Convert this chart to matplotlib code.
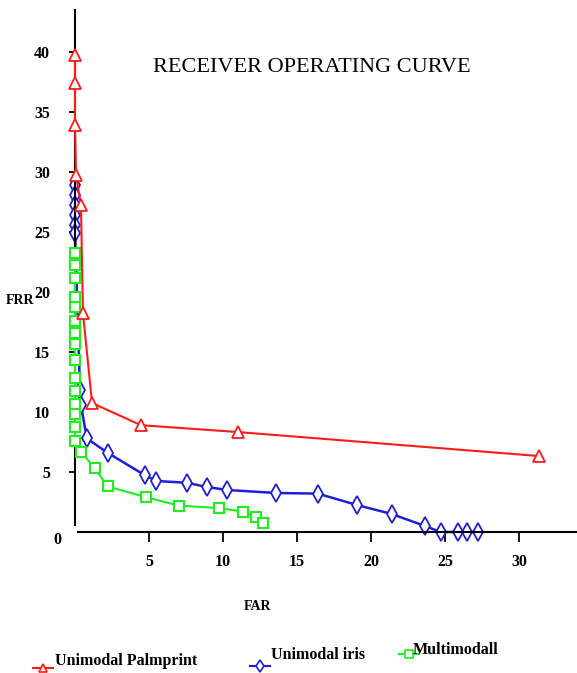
import matplotlib
matplotlib.use("Agg")
import matplotlib.pyplot as plt
from matplotlib.lines import Line2D

# FAR / FRR values
palm_far = [0, 0, 0, 0.07, 0.4, 0.54, 1.15, 4.46, 11.0, 31.35]
palm_frr = [39.75, 37.4, 33.9, 29.75, 27.25, 18.25, 10.75, 8.9, 8.33, 6.33]

iris_far = [0, 0, 0, 0, 0, 0, 0.34, 0.4, 0.8, 2.2, 4.7, 5.5, 7.6, 8.9, 10.3,
            13.6, 16.4, 19.05, 21.4, 23.65, 24.7, 25.9, 26.5, 27.2]
iris_frr = [28.9, 28.1, 27.25, 26.4, 25.6, 24.9, 11.8, 10.6, 7.8, 6.6, 4.75,
            4.25, 4.1, 3.75, 3.5, 3.25, 3.2, 2.25, 1.5, 0.5, 0, 0, 0, 0]

multi_far = [0, 0, 0, 0, 0, 0, 0, 0, 0, 0, 0, 0, 0, 0, 0, 0.4, 1.35, 2.2,
             4.8, 7.0, 9.7, 11.35, 12.2, 12.7]
multi_frr = [23.25, 22.25, 21.2, 19.6, 18.75, 17.6, 16.6, 15.7, 14.3, 12.8,
             11.75, 10.7, 9.8, 8.75, 7.6, 6.7, 5.3, 3.8, 2.9, 2.2, 2.0, 1.7,
             1.25, 0.75]

xticks = [5, 10, 15, 20, 25, 30]
yticks = [5, 10, 15, 20, 25, 30, 35, 40]

RED = "#ff1a1a"
BLUE = "#1f1fd6"
GREEN = "#1ef01e"
SERIF = "Liberation Serif"

W, H = 577, 673
fig = plt.figure(figsize=(W / 100, H / 100), dpi=100)
ax = fig.add_axes([75 / W, 141 / H, 502 / W, 522 / H])
ax.set_xlim(0, 502 / 14.8)
ax.set_ylim(0, 43.5)

ax.plot(multi_far, multi_frr, "-s", color=GREEN, lw=1.5, ms=6.5,
        mfc="white", mew=1.5, clip_on=False, zorder=3)
ax.plot(iris_far, iris_frr, "-d", color=BLUE, lw=1.8, ms=9,
        mfc="white", mew=1.3, clip_on=False, zorder=2)
ax.plot(palm_far, palm_frr, "-^", color=RED, lw=1.5, ms=8,
        mfc="white", mew=1.3, clip_on=False, zorder=4)

for side in ("top", "right"):
    ax.spines[side].set_visible(False)
ax.spines["left"].set_linewidth(1.5)
ax.spines["bottom"].set_linewidth(1.5)
ax.spines["left"].set_bounds(0.6, 43.5)
ax.spines["bottom"].set_bounds(0.2, 502 / 14.8)

ax.set_xticks(xticks)
ax.set_yticks(yticks)
ax.tick_params(axis="x", direction="out", length=7, width=1.3, pad=9)
ax.tick_params(axis="y", direction="out", length=4, width=1.3, pad=14)
for lab in ax.get_xticklabels() + ax.get_yticklabels():
    lab.set_family(SERIF)
    lab.set_fontweight("bold")
    lab.set_fontsize(11.5)
ax.text(-1.2, -0.7, "0", family=SERIF, fontweight="bold", fontsize=11.5,
        ha="center", va="center", clip_on=False)

fig.text(20 / W, 1 - 300 / H, "FRR", family=SERIF, fontweight="bold",
         fontsize=10, ha="center", va="center")
fig.text(258 / W, 1 - 607 / H, "FAR", family=SERIF, fontweight="bold",
         fontsize=10, ha="center", va="center")
fig.text(312 / W, 1 - 67 / H, "RECEIVER OPERATING CURVE", family=SERIF,
         fontsize=16, ha="center", va="center")

# legend drawn by hand, entries sit at slightly different heights
legend_items = [
    ("Unimodal Palmprint", RED, "^", 33, 668, 55, 661),
    ("Unimodal iris", BLUE, "d", 250, 666, 271, 655),
    ("Multimodall", GREEN, "s", 399, 654, 413, 650),
]
for label, color, marker, x0, ly, tx, ty in legend_items:
    fig.add_artist(Line2D([x0 / W, (x0 + 20) / W], [1 - ly / H, 1 - ly / H],
                          color=color, lw=1.5))
    fig.add_artist(Line2D([(x0 + 10) / W], [1 - ly / H], marker=marker,
                          color=color, mfc="white", ms=6, mew=1.2))
    fig.text(tx / W, 1 - ty / H, label, family=SERIF, fontweight="bold",
             fontsize=11.5, ha="left", va="center")

fig.savefig("out.png", dpi=100)
